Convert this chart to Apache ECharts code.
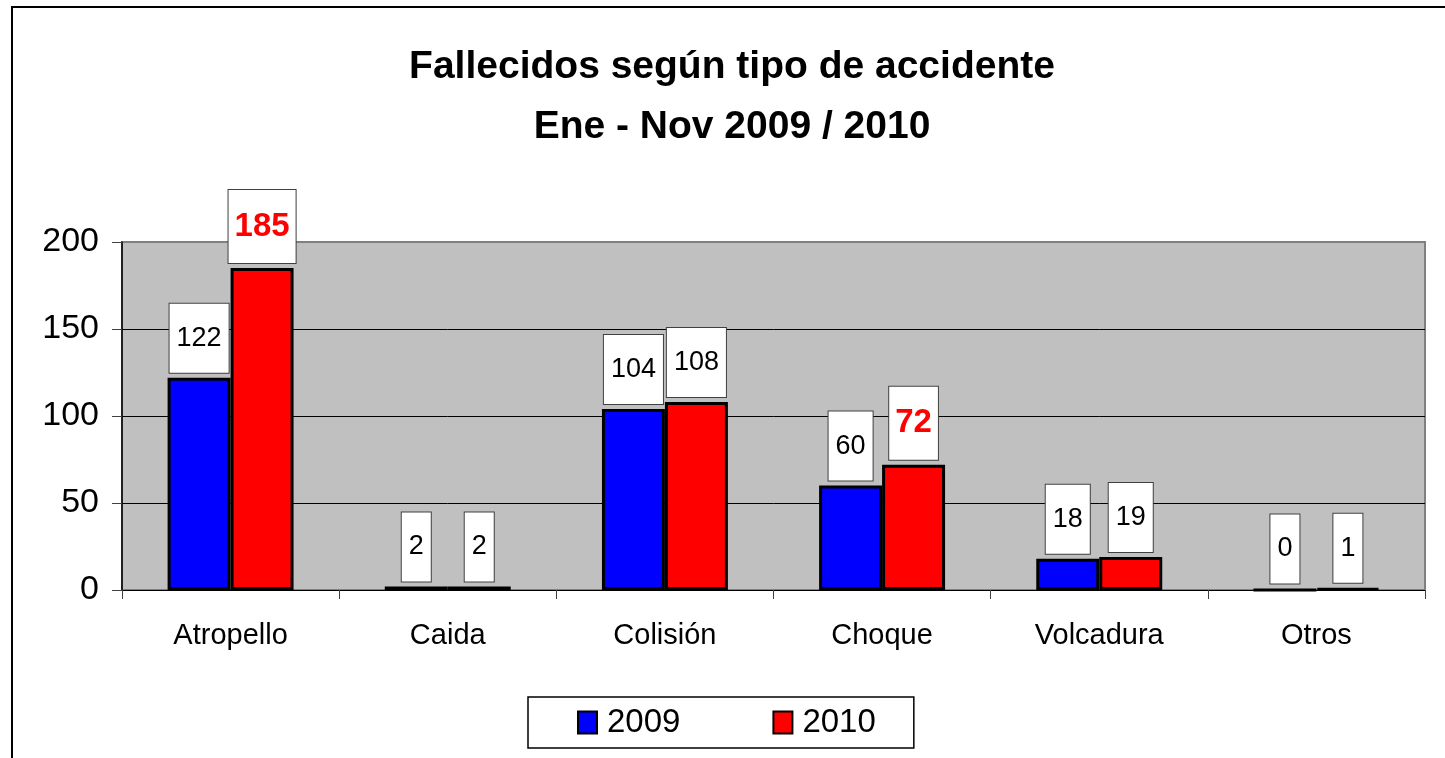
<!DOCTYPE html>
<html>
<head>
<meta charset="utf-8">
<script src="https://cdn.jsdelivr.net/npm/echarts@6/dist/echarts.min.js"></script>
<style>
  html, body { margin: 0; padding: 0; background: #fff; }
  #chart { width: 1445px; height: 758px; }
</style>
</head>
<body>
<div id="chart"></div>
<script>
// datos
var categorias = ['Atropello', 'Caida', 'Colisión', 'Choque', 'Volcadura', 'Otros'];
var anio2009 = [122, 2, 104, 60, 18, 0];
var anio2010 = [185, 2, 108, 72, 19, 1];
var destacados2010 = [185, 72];   // valores en rojo y negrita
var ticksY = [0, 50, 100, 150, 200];

var fuente = "'Liberation Sans', Arial, sans-serif";

var dom = document.getElementById('chart');
var myChart = echarts.init(dom, null, { renderer: 'canvas' });

var etiqueta = {
    show: true,
    position: 'top',
    distance: 5,
    color: '#000',
    fontFamily: fuente,
    fontSize: 27,
    backgroundColor: '#fff',
    borderColor: '#404040',
    borderWidth: 1,
    padding: [21, 7]
};

function datos2010() {
    return anio2010.map(function (v) {
        if (destacados2010.indexOf(v) >= 0) {
            return {
                value: v,
                label: { color: '#ff0000', fontWeight: 'bold', fontSize: 33, padding: [20, 6] }
            };
        }
        return v;
    });
}

var option = {
    backgroundColor: '#fff',
    animation: false,
    title: {
        text: 'Fallecidos según tipo de accidente\nEne - Nov 2009 / 2010',
        left: 727,
        top: 32,
        textAlign: 'center',
        textStyle: {
            fontFamily: fuente,
            fontWeight: 'bold',
            fontSize: 39,
            lineHeight: 60,
            color: '#000'
        }
    },
    graphic: [{
        type: 'rect',
        shape: { x: 12, y: 7, width: 1500, height: 800 },
        style: { fill: 'none', stroke: '#000', lineWidth: 2 },
        silent: true
    }],
    legend: {
        data: ['2009', '2010'],
        left: 528,
        top: 697,
        orient: 'horizontal',
        padding: [9, 38, 9, 49],
        itemGap: 92,
        itemWidth: 19,
        itemHeight: 22,
        borderColor: '#000',
        borderWidth: 1.5,
        icon: 'rect',
        textStyle: { fontFamily: fuente, fontSize: 33, color: '#000', padding: [0, 0, 0, 5] }
    },
    grid: {
        show: true,
        left: 122,
        right: 20,
        top: 242,
        bottom: 168,
        backgroundColor: '#c0c0c0',
        borderColor: '#808080',
        borderWidth: 2
    },
    xAxis: {
        type: 'category',
        data: categorias,
        axisLine: { lineStyle: { color: '#000', width: 1 } },
        axisTick: { show: true, length: 9, lineStyle: { color: '#404040' } },
        axisLabel: { margin: 31, color: '#000', fontFamily: fuente, fontSize: 29 }
    },
    yAxis: {
        type: 'value',
        min: ticksY[0],
        max: ticksY[ticksY.length - 1],
        interval: 50,
        axisLine: { show: true, lineStyle: { color: '#000', width: 1.5 } },
        axisTick: { show: true, length: 10, lineStyle: { color: '#404040' } },
        axisLabel: { margin: 23, color: '#000', fontFamily: fuente, fontSize: 34 },
        splitLine: { show: true, lineStyle: { color: ['#000', '#000', '#000', '#000', '#808080'], width: 1 } }
    },
    series: [
        {
            name: '2009',
            type: 'bar',
            data: anio2009,
            barGap: '0%',
            barCategoryGap: '42%',
            itemStyle: { color: '#0000ff', borderColor: '#000', borderWidth: 3 },
            label: etiqueta
        },
        {
            name: '2010',
            type: 'bar',
            data: datos2010(),
            itemStyle: { color: '#ff0000', borderColor: '#000', borderWidth: 3 },
            label: etiqueta
        }
    ]
};

myChart.setOption(option);
window.addEventListener('resize', myChart.resize);
</script>
</body>
</html>
